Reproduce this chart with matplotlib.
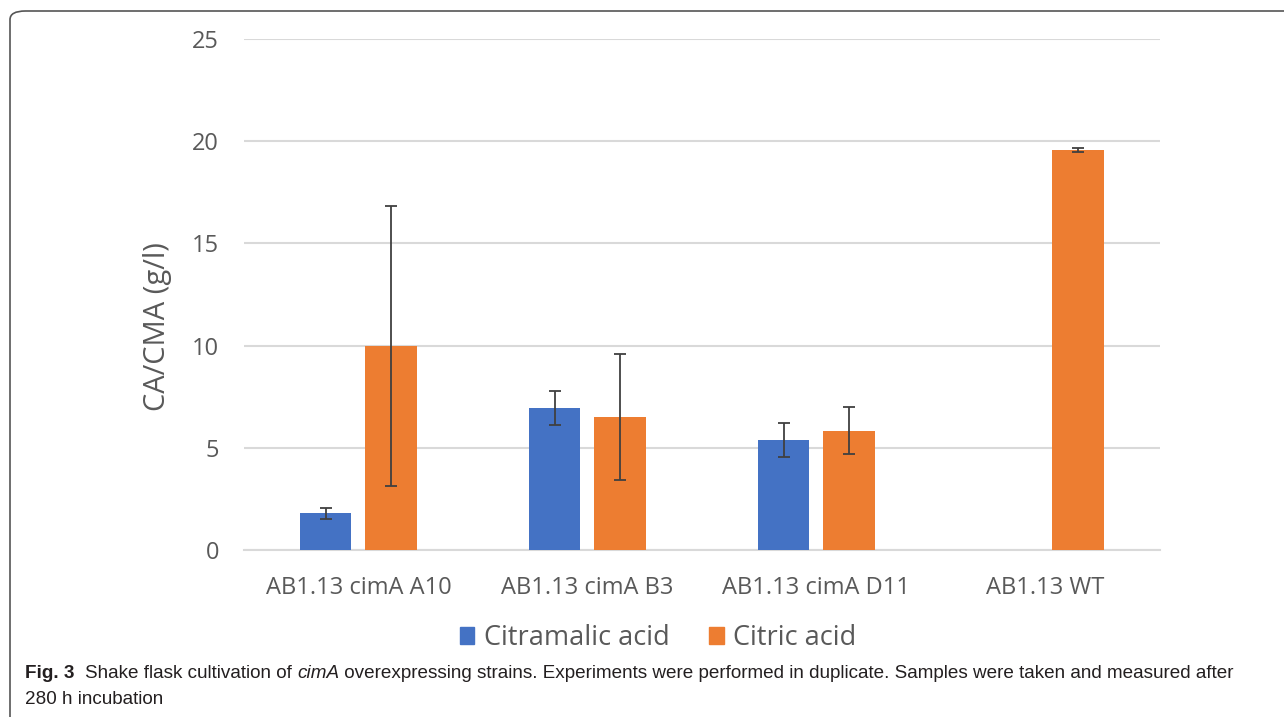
import numpy as np
import matplotlib
matplotlib.use('Agg')
import matplotlib.pyplot as plt
from matplotlib.patches import FancyBboxPatch, Patch

plt.rcParams['font.family'] = ['Open Sans', 'DejaVu Sans']

categories = ['AB1.13 cimA A10', 'AB1.13 cimA B3', 'AB1.13 cimA D11', 'AB1.13 WT']
citramalic = [1.8, 6.95, 5.37, 0.0]
citramalic_err = [0.27, 0.82, 0.84, np.nan]
citric = [10.0, 6.5, 5.84, 19.57]
citric_err = [6.85, 3.08, 1.16, 0.1]
series_labels = ['Citramalic acid', 'Citric acid']
yticks = [0, 5, 10, 15, 20, 25]

blue = '#4472C4'
orange = '#ED7D31'
txt = '#595959'

fig = plt.figure(figsize=(12.84, 7.17), dpi=100)
ax = fig.add_axes([0.19, 0.233, 0.7134, 0.7126])

x = np.arange(len(categories))
w = 0.223
off = 0.142
ekw = dict(ecolor='#404040', elinewidth=1.3, capsize=4, capthick=1.3)
ax.bar(x - off, citramalic, w, color=blue, yerr=citramalic_err, error_kw=ekw, zorder=3)
ax.bar(x + off, citric, w, color=orange, yerr=citric_err, error_kw=ekw, zorder=3)

ax.set_xlim(-0.5, len(categories) - 0.5)
ax.set_ylim(0, 25)
ax.set_yticks(yticks)
ax.yaxis.grid(True, color='#d9d9d9', linewidth=1.5, zorder=0)
ax.set_axisbelow(True)
for s in ['top', 'right', 'left']:
    ax.spines[s].set_visible(False)
ax.spines['bottom'].set_color('#d9d9d9')
ax.spines['bottom'].set_linewidth(1.5)
ax.tick_params(length=0, labelcolor=txt, labelsize=17)
ax.tick_params(axis='y', pad=18)
ax.tick_params(axis='x', pad=19)
ax.set_xticks(x)
ax.set_xticklabels(categories)
ax.set_ylabel('CA/CMA (g/l)', fontsize=21, color=txt)
ax.yaxis.set_label_coords(-0.0786, 0.438)

handles = [Patch(color=blue), Patch(color=orange)]
fig.legend(handles, series_labels, loc='center', bbox_to_anchor=(0.5125, 0.11),
           ncol=2, frameon=False, fontsize=19.5, labelcolor=txt,
           handlelength=0.55, handleheight=0.55, handletextpad=0.35, columnspacing=1.45)

# rounded frame (only left/top visible within image)
frame = FancyBboxPatch((10 / 1284, -0.2), 1.2, 1 - 11 / 717 + 0.2,
                       boxstyle='round,pad=0,rounding_size=0.012',
                       transform=fig.transFigure, fill=False,
                       edgecolor='#555555', linewidth=1.2)
fig.add_artist(frame)

# caption, sized so the first line spans the same width as the reference
cap_font = ['Liberation Sans', 'DejaVu Sans']
cc = '#231f20'
parts = [('Fig. 3  ', 'bold', 'normal'),
         ('Shake flask cultivation of ', 'normal', 'normal'),
         ('cimA', 'normal', 'italic'),
         (' overexpressing strains. Experiments were performed in duplicate. Samples were taken and measured after', 'normal', 'normal')]
fig.canvas.draw()
r = fig.canvas.get_renderer()
fs0 = 14
tot = 0
for s, wt, st in parts:
    t = fig.text(0, 0, s, fontsize=fs0, fontweight=wt, style=st, family=cap_font)
    tot += t.get_window_extent(renderer=r).width
    t.remove()
fs = fs0 * 1218 / tot

y1 = 1 - 673 / 717
xpos = 25 / 1284
for s, wt, st in parts:
    t = fig.text(xpos, y1, s, fontsize=fs, fontweight=wt, style=st,
                 family=cap_font, color=cc, va='center', ha='left')
    xpos += t.get_window_extent(renderer=r).width / fig.bbox.width
fig.text(25 / 1284, 1 - 699 / 717, '280 h incubation', fontsize=fs, family=cap_font,
         color=cc, va='center', ha='left')

fig.savefig('out.png', dpi=100)
